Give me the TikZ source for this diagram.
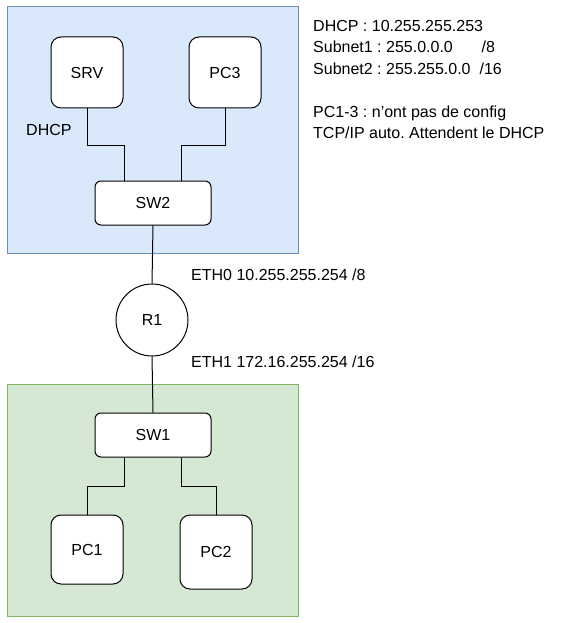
\documentclass[tikz,border=0pt]{standalone}
\usepackage{fontspec}
\setmainfont{Liberation Sans}
\usetikzlibrary{calc}
\definecolor{bluefill}{HTML}{DAE8FC}
\definecolor{bluestroke}{HTML}{6C8EBF}
\definecolor{greenfill}{HTML}{D5E8D4}
\definecolor{greenstroke}{HTML}{82B366}
\frenchspacing
\begin{document}
\begin{tikzpicture}[x=1pt,y=-1pt,
  every node/.style={font=\fontsize{16}{21.5}\selectfont, inner sep=0pt},
  pcbox/.style={draw=black, fill=white, rounded corners=10pt, line width=1pt, minimum width=72pt, minimum height=71pt},
  swbox/.style={draw=black, fill=white, rounded corners=6pt, line width=1pt, minimum width=116pt, minimum height=44pt},
  rtr/.style={draw=black, fill=white, circle, line width=1pt, minimum size=72pt},
  link/.style={draw=black, line width=1pt},
  lbl/.style={anchor=west, align=left}]
\useasboundingbox (0,0) rectangle (574,623);
% zones
\draw[fill=bluefill, draw=bluestroke, line width=1pt] (7,7) rectangle (298,253);
\draw[fill=greenfill, draw=greenstroke, line width=1pt] (7,384) rectangle (298,616);
% nodes
\node[pcbox] (srv) at (87,72.5) {SRV};
\node[pcbox] (pc3) at (225,72.5) {PC3};
\node[swbox] (sw2) at (153,203) {SW2};
\node[rtr] (r1) at (152,320) {R1};
\node[swbox] (sw1) at (153,435) {SW1};
\node[pcbox, minimum height=69pt] (pc1) at (87,549.5) {PC1};
\node[pcbox, minimum height=74pt] (pc2) at (216,552) {PC2};
% links
\path[link] (srv.south) -- (87,145) coordinate (b1) -| ([xshift=-29pt]sw2.north);
\path[link] (pc3.south) -- (225,145) coordinate (b2) -| ([xshift=28pt]sw2.north);
\path[link] (sw2.south) -- (r1.north);
\path[link] (r1.south) -- (sw1.north);
\path[link] ([xshift=-29pt]sw1.south) -- (124,486) coordinate (b3) -| (pc1.north);
\path[link] ([xshift=28pt]sw1.south) -- (181,486) coordinate (b4) -| (pc2.north);
% labels
\node[lbl] (dhcplbl) at (26,130) {DHCP};
\node[lbl] (eth0) at (191,275) {ETH0 10.255.255.254 /8};
\node[lbl] (eth1) at (191,362) {ETH1 172.16.255.254 /16};
\node[anchor=north west, align=left] (info) at (313,20) {DHCP : 10.255.255.253\\Subnet1 : 255.0.0.0\hspace{1.8em}/8\\Subnet2 : 255.255.0.0\hspace{0.56em}/16\\[21.5pt]PC1-3 : n'ont pas de config\\TCP/IP auto. Attendent le DHCP};
\end{tikzpicture}
\end{document}
